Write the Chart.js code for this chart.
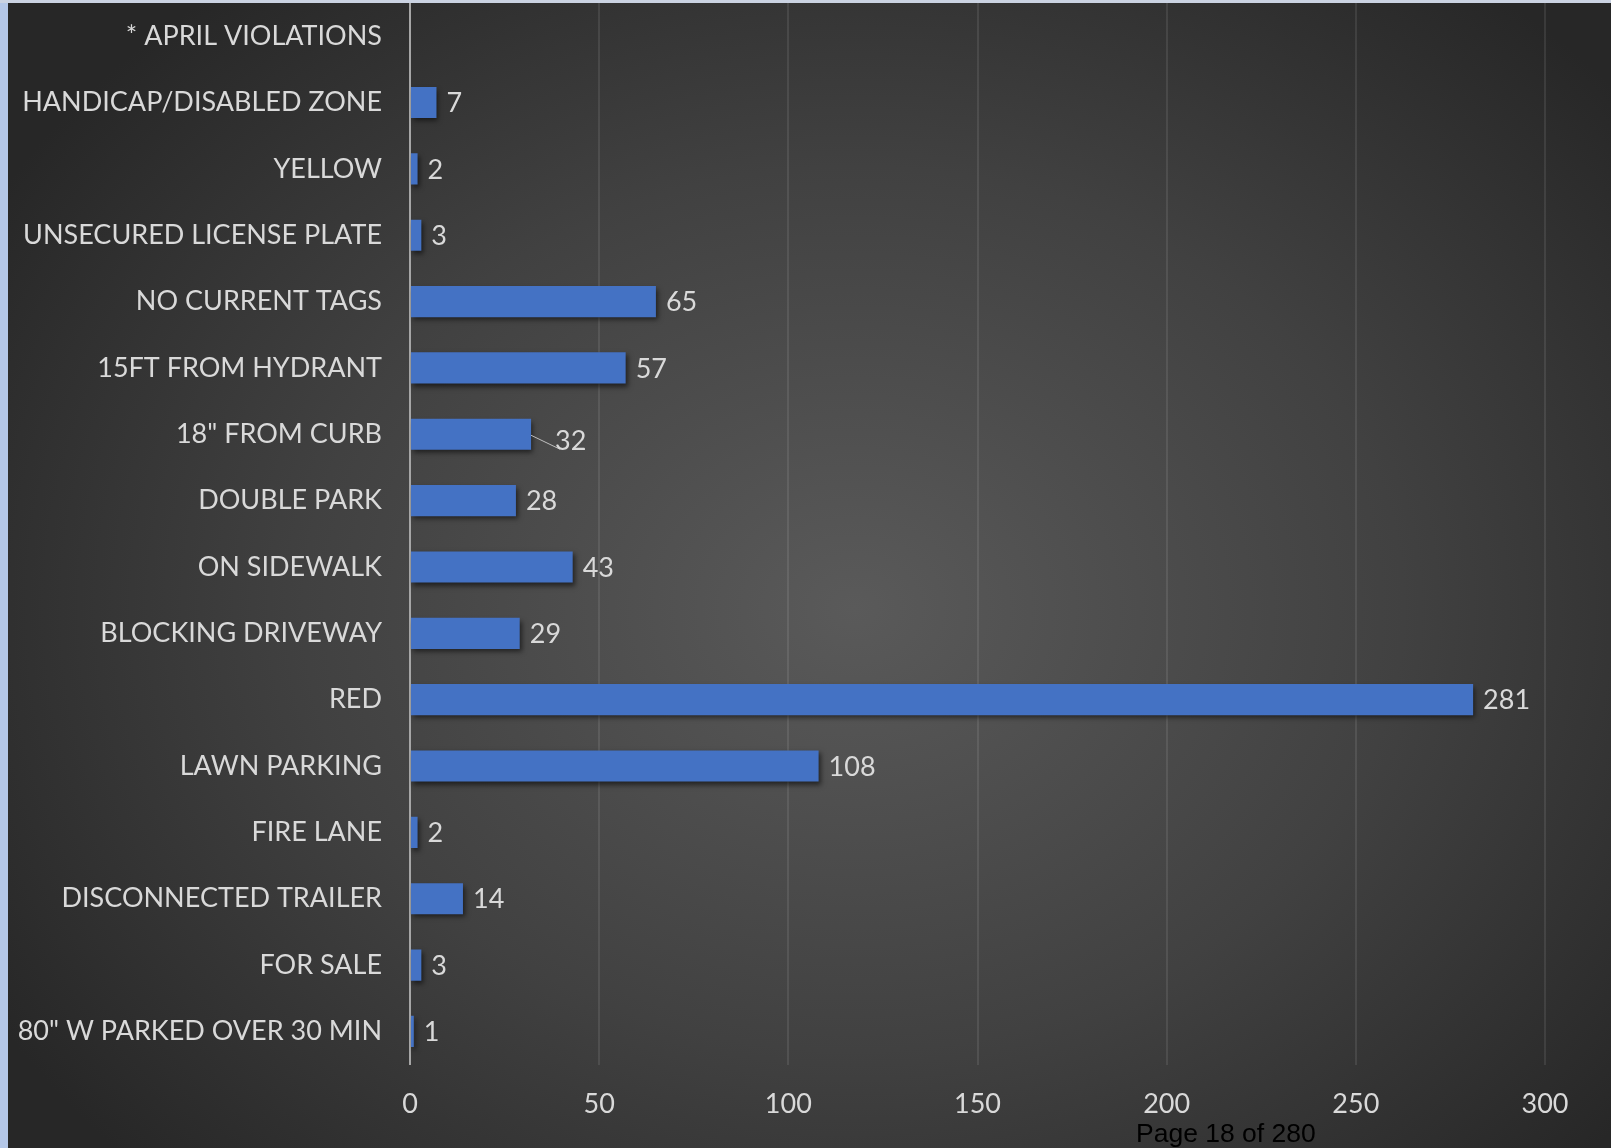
<!DOCTYPE html>
<html>
<head>
<meta charset="utf-8">
<script src="https://cdn.jsdelivr.net/npm/chart.js@4.4.1/dist/chart.umd.min.js"></script>
<style>
    html, body { margin: 0; padding: 0; }
    body {
        width: 1611px;
        height: 1148px;
        overflow: hidden;
        position: relative;
        background: radial-gradient(ellipse 62% 70% at 53% 53%, #5a5a5a 0%, #414141 55%, #272727 100%);
    }
    #franjaIzq { position: absolute; left: 0; top: 0; width: 8px; height: 1148px; background: #b4c7e7; z-index: 2; }
    #franjaSup { position: absolute; left: 0; top: 0; width: 1611px; height: 3px; background: #cbd3e2; z-index: 2; }
    #grafica { position: absolute; left: 0; top: 0; }
    #pagina {
        position: absolute; left: 1136px; top: 1118px;
        font-family: "Liberation Sans", Arial, sans-serif; font-size: 26.5px; color: #000;
    }
</style>
</head>
<body>
<div id="franjaIzq"></div>
<div id="franjaSup"></div>
<canvas id="grafica" width="1611" height="1148"></canvas>
<div id="pagina">Page 18 of 280</div>
<script>
const categorias = [
    '* APRIL VIOLATIONS',
    'HANDICAP/DISABLED ZONE',
    'YELLOW',
    'UNSECURED LICENSE PLATE',
    'NO CURRENT TAGS',
    '15FT FROM HYDRANT',
    '18" FROM CURB',
    'DOUBLE PARK',
    'ON SIDEWALK',
    'BLOCKING DRIVEWAY',
    'RED',
    'LAWN PARKING',
    'FIRE LANE',
    'DISCONNECTED TRAILER',
    'FOR SALE',
    '80" W PARKED OVER 30 MIN'
];
const valores = [null, 7, 2, 3, 65, 57, 32, 28, 43, 29, 281, 108, 2, 14, 3, 1];
const marcasEje = [0, 50, 100, 150, 200, 250, 300];

const fuente = { family: 'Lato, "Open Sans", sans-serif', size: 27 };

// sombra bajo las barras
const sombraBarras = {
    id: 'sombraBarras',
    beforeDatasetDraw(chart) {
        const ctx = chart.ctx;
        ctx.save();
        ctx.shadowColor = 'rgba(0, 0, 0, 0.55)';
        ctx.shadowBlur = 5;
        ctx.shadowOffsetX = 2;
        ctx.shadowOffsetY = 3;
    },
    afterDatasetDraw(chart) {
        chart.ctx.restore();
    }
};

// etiquetas de valor al final de cada barra
const etiquetasBarras = {
    id: 'etiquetasBarras',
    afterDatasetsDraw(chart, args, opts) {
        const ctx = chart.ctx;
        const meta = chart.getDatasetMeta(0);
        ctx.save();
        ctx.font = fuente.size + 'px ' + fuente.family;
        ctx.fillStyle = '#d9d9d9';
        ctx.textAlign = 'left';
        ctx.textBaseline = 'middle';
        meta.data.forEach(function (barra, i) {
            const valor = valores[i];
            if (valor === null) {
                return;
            }
            let x = barra.x + opts.separacion;
            let y = barra.y + 1;
            if (i === opts.guia.indice) {
                ctx.strokeStyle = '#bfbfbf';
                ctx.lineWidth = 1;
                ctx.beginPath();
                ctx.moveTo(barra.x, barra.y + 1);
                ctx.lineTo(barra.x + opts.guia.largoX, barra.y + opts.guia.largoY);
                ctx.stroke();
                x += opts.guia.dx;
                y += opts.guia.dy;
            }
            ctx.fillText(String(valor), x, y);
        });
        ctx.restore();
    }
};

new Chart(document.getElementById('grafica'), {
    type: 'bar',
    data: {
        labels: categorias,
        datasets: [{
            data: valores,
            backgroundColor: '#4472c4',
            borderWidth: 0,
            barPercentage: 0.47,
            categoryPercentage: 1
        }]
    },
    plugins: [sombraBarras, etiquetasBarras],
    options: {
        indexAxis: 'y',
        responsive: false,
        animation: false,
        layout: {
            padding: { top: 3, right: 66, bottom: 5, left: 0 }
        },
        plugins: {
            legend: { display: false },
            tooltip: { enabled: false },
            etiquetasBarras: {
                separacion: 10,
                guia: { indice: 6, dx: 14, dy: 6, largoX: 29, largoY: 15 }
            }
        },
        scales: {
            x: {
                min: 0,
                max: 300,
                afterBuildTicks: function (eje) {
                    eje.ticks = marcasEje.map(function (v) { return { value: v }; });
                },
                afterFit: function (eje) {
                    eje.paddingLeft = 0;
                    eje.paddingRight = 0;
                },
                grid: {
                    drawTicks: false,
                    lineWidth: 2,
                    color: function (c) {
                        return c.tick && c.tick.value === 0 ? 'rgba(0,0,0,0)' : 'rgba(255,255,255,0.09)';
                    }
                },
                border: { display: false },
                ticks: {
                    color: '#d9d9d9',
                    font: fuente,
                    padding: 23,
                    maxRotation: 0
                }
            },
            y: {
                afterFit: function (eje) {
                    eje.width = 410;
                    eje.paddingTop = 0;
                    eje.paddingBottom = 0;
                },
                grid: { display: false, drawTicks: false },
                border: { display: true, color: '#a6a6a6', width: 2 },
                ticks: {
                    color: '#d9d9d9',
                    font: fuente,
                    padding: 28,
                    autoSkip: false
                }
            }
        }
    }
});
</script>
</body>
</html>
